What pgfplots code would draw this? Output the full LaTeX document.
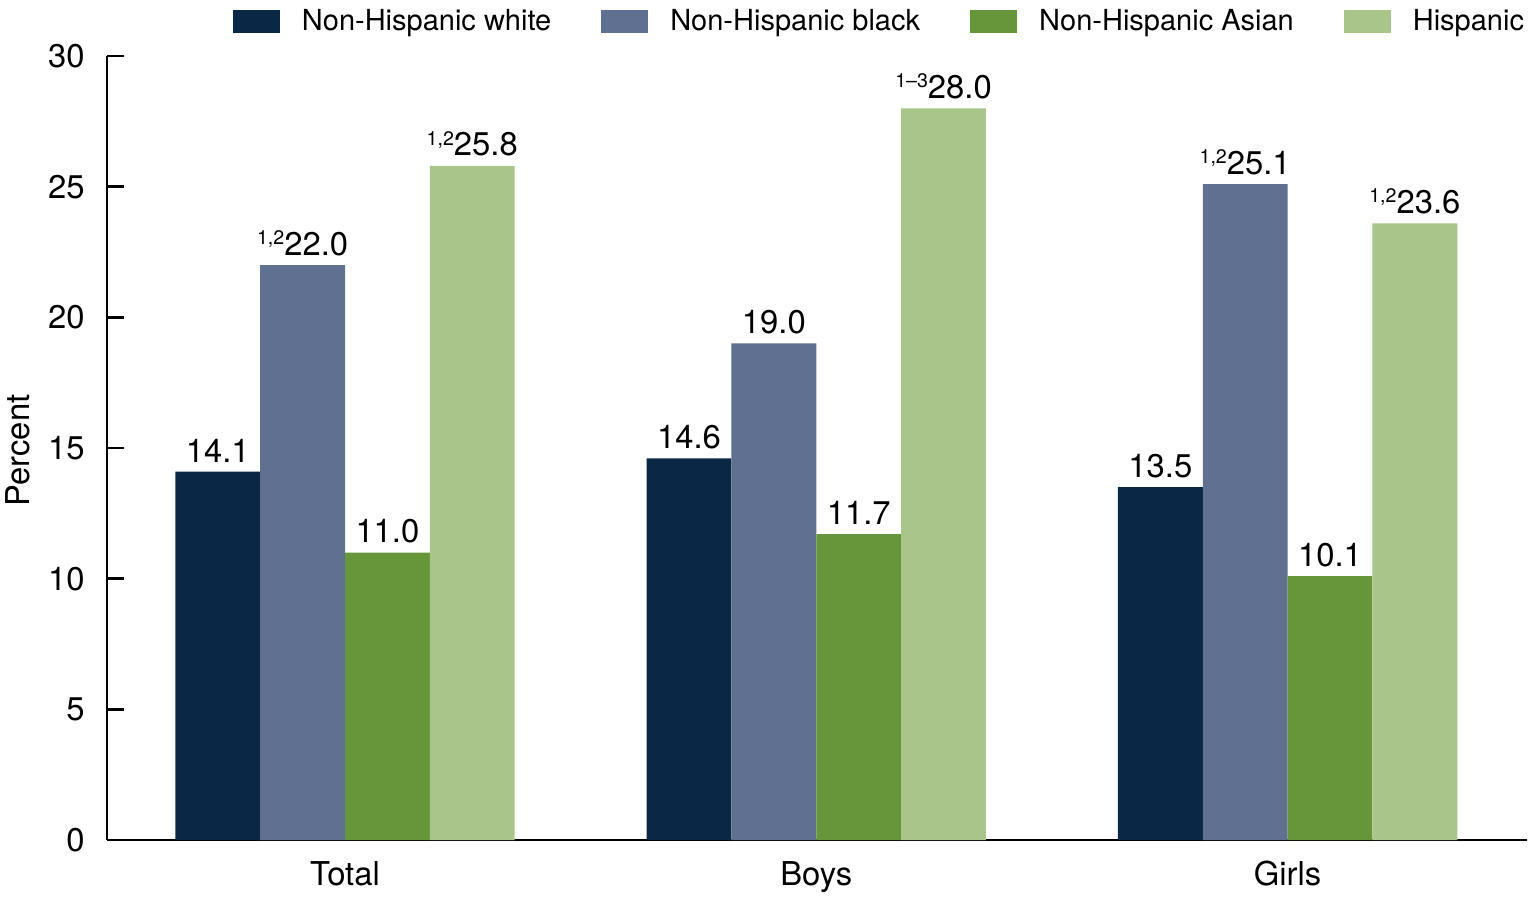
\documentclass[border=0pt]{standalone}
\usepackage{pgfplots}
\pgfplotsset{compat=1.18}
\usepackage{fontspec}
\setmainfont{TeX Gyre Heros}
\definecolor{cwhite}{HTML}{0A2846}
\definecolor{cblack}{HTML}{5F7090}
\definecolor{casian}{HTML}{67963A}
\definecolor{chisp}{HTML}{AAC58A}
% small superscript before a value label
\newcommand\sups[1]{\raisebox{5.2pt}{\fontsize{9.8}{9.8}\selectfont #1}}

\begin{document}
\begin{tikzpicture}
\useasboundingbox (0,0) rectangle (764.5pt,448pt);
\begin{axis}[
    at={(53.5pt,28pt)}, anchor=south west,
    scale only axis,
    width=710pt, height=392pt,
    xmin=-0.505, xmax=2.508,
    ymin=0, ymax=30,
    ybar=0pt,
    bar width=0.18,
    axis x line=bottom,
    axis y line=left,
    axis line style={-, line width=1.3pt},
    xtick={0,1,2},
    xticklabels={Total, Boys, Girls},
    xtick style={draw=none},
    ytick={0,5,...,30},
    tick align=inside,
    major tick length=8.5pt,
    ytick style={line width=1.3pt, black},
    /pgf/number format/assume math mode=true,
    tick label style={font=\fontsize{16.4}{19}\selectfont},
    yticklabel style={anchor=east, inner sep=0pt, xshift=-11pt},
    xticklabel style={anchor=north, inner sep=0pt, yshift=-10.5pt},
    ylabel={Percent},
    ylabel style={at={(axis description cs:-0.0627,0.497)}, anchor=center,
        font=\fontsize{16.4}{19}\selectfont},
    point meta=explicit symbolic,
    nodes near coords,
    every node near coord/.append style={anchor=south, inner sep=0pt,
        yshift=4.5pt, font=\fontsize{16.4}{19}\selectfont, black},
    legend columns=4,
    legend style={
        at={(axis description cs:0.0887,1.0446)}, anchor=west,
        draw=none, fill=none, inner sep=0pt, outer sep=0pt,
        font=\fontsize{14.5}{17}\selectfont,
        nodes={inner sep=0pt},
        /tikz/every odd column/.append style={column sep=11pt},
        /tikz/every even column/.append style={column sep=25pt},
    },
    legend image code/.code={\fill[#1] (0pt,-5.75pt) rectangle (23.5pt,5.75pt);},
]
\addplot[fill=cwhite, draw=none] coordinates {
    (0,14.1) [14.1] (1,14.6) [14.6] (2,13.5) [13.5]};
\addplot[fill=cblack, draw=none] coordinates {
    (0,22.0) [{\sups{1,2}22.0}] (1,19.0) [19.0] (2,25.1) [{\sups{1,2}25.1}]};
\addplot[fill=casian, draw=none] coordinates {
    (0,11.0) [11.0] (1,11.7) [11.7] (2,10.1) [10.1]};
\addplot[fill=chisp, draw=none] coordinates {
    (0,25.8) [{\sups{1,2}25.8}] (1,28.0) [{\sups{1--3}28.0}] (2,23.6) [{\sups{1,2}23.6}]};
\legend{Non-Hispanic white, Non-Hispanic black, Non-Hispanic Asian, Hispanic}
\end{axis}
\end{tikzpicture}
\end{document}
